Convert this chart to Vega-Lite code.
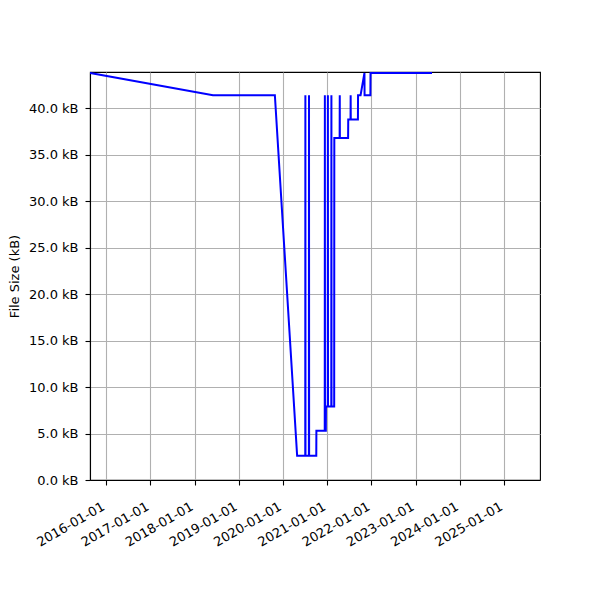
{
  "$schema": "https://vega.github.io/schema/vega-lite/v6.json",
  "autosize": {"type": "none"},
  "padding": {"left": 90, "top": 72, "right": 60, "bottom": 120},
  "width": 450,
  "height": 408,
  "background": "white",
  "config": {
    "font": "DejaVu Sans",
    "view": {"stroke": "black", "strokeWidth": 1.1},
    "axis": {
      "labelFont": "DejaVu Sans",
      "labelFontSize": 13,
      "labelColor": "black",
      "titleFont": "DejaVu Sans",
      "titleFontSize": 13,
      "titleFontWeight": "normal",
      "titleColor": "black",
      "domainColor": "black",
      "domainWidth": 1.1,
      "tickColor": "black",
      "tickWidth": 1.1,
      "tickSize": 5,
      "labelPadding": 4,
      "gridColor": "#b0b0b0",
      "gridWidth": 1.1,
      "gridOpacity": 1
    }
  },
  "data": {
    "values": [
      {"date": "2015-08-21", "size": 43.8},
      {"date": "2018-06-02", "size": 41.4},
      {"date": "2019-10-26", "size": 41.4},
      {"date": "2020-04-27", "size": 2.6},
      {"date": "2020-07-03", "size": 2.6},
      {"date": "2020-07-04", "size": 41.4},
      {"date": "2020-07-05", "size": 2.6},
      {"date": "2020-08-02", "size": 2.6},
      {"date": "2020-08-03", "size": 41.4},
      {"date": "2020-08-04", "size": 2.6},
      {"date": "2020-10-02", "size": 2.6},
      {"date": "2020-10-03", "size": 5.3},
      {"date": "2020-12-11", "size": 5.3},
      {"date": "2020-12-12", "size": 41.4},
      {"date": "2020-12-13", "size": 5.3},
      {"date": "2020-12-20", "size": 5.3},
      {"date": "2020-12-21", "size": 7.9},
      {"date": "2021-01-05", "size": 7.9},
      {"date": "2021-01-06", "size": 41.4},
      {"date": "2021-01-07", "size": 7.9},
      {"date": "2021-02-03", "size": 7.9},
      {"date": "2021-02-04", "size": 41.4},
      {"date": "2021-02-05", "size": 7.9},
      {"date": "2021-02-27", "size": 7.9},
      {"date": "2021-02-28", "size": 36.8},
      {"date": "2021-04-13", "size": 36.8},
      {"date": "2021-04-14", "size": 41.4},
      {"date": "2021-04-15", "size": 36.8},
      {"date": "2021-06-22", "size": 36.8},
      {"date": "2021-06-23", "size": 38.8},
      {"date": "2021-07-12", "size": 38.8},
      {"date": "2021-07-13", "size": 41.4},
      {"date": "2021-07-14", "size": 38.8},
      {"date": "2021-09-11", "size": 38.8},
      {"date": "2021-09-12", "size": 41.4},
      {"date": "2021-10-03", "size": 41.4},
      {"date": "2021-11-04", "size": 43.8},
      {"date": "2021-11-05", "size": 41.4},
      {"date": "2021-12-23", "size": 41.4},
      {"date": "2021-12-24", "size": 43.8},
      {"date": "2023-05-16", "size": 43.8}
    ]
  },
  "mark": {"type": "line", "color": "#0000ff", "strokeWidth": 2, "clip": true},
  "encoding": {
    "x": {
      "field": "date",
      "type": "temporal",
      "scale": {"domain": ["2015-08-21", "2025-10-24"], "nice": false},
      "axis": {
        "title": null,
        "values": ["2016-01-01", "2017-01-01", "2018-01-01", "2019-01-01", "2020-01-01", "2021-01-01", "2022-01-01", "2023-01-01", "2024-01-01", "2025-01-01"],
        "format": "%Y-%m-%d",
        "formatType": "time",
        "labelAngle": -30,
        "labelAlign": "right",
        "labelBaseline": "top",
        "labelOverlap": false,
        "labelFlush": false,
        "labelPadding": 15,
        "labelOffset": -6,
        "grid": true
      }
    },
    "y": {
      "field": "size",
      "type": "quantitative",
      "scale": {"domain": [0, 43.9], "nice": false, "zero": true},
      "axis": {
        "title": "File Size (kB)",
        "values": [0, 5, 10, 15, 20, 25, 30, 35, 40],
        "labelExpr": "format(datum.value, '.1f') + ' kB'",
        "labelOverlap": false,
        "labelFlush": false,
        "labelPadding": 7,
        "titlePadding": 7,
        "grid": true
      }
    }
  }
}
